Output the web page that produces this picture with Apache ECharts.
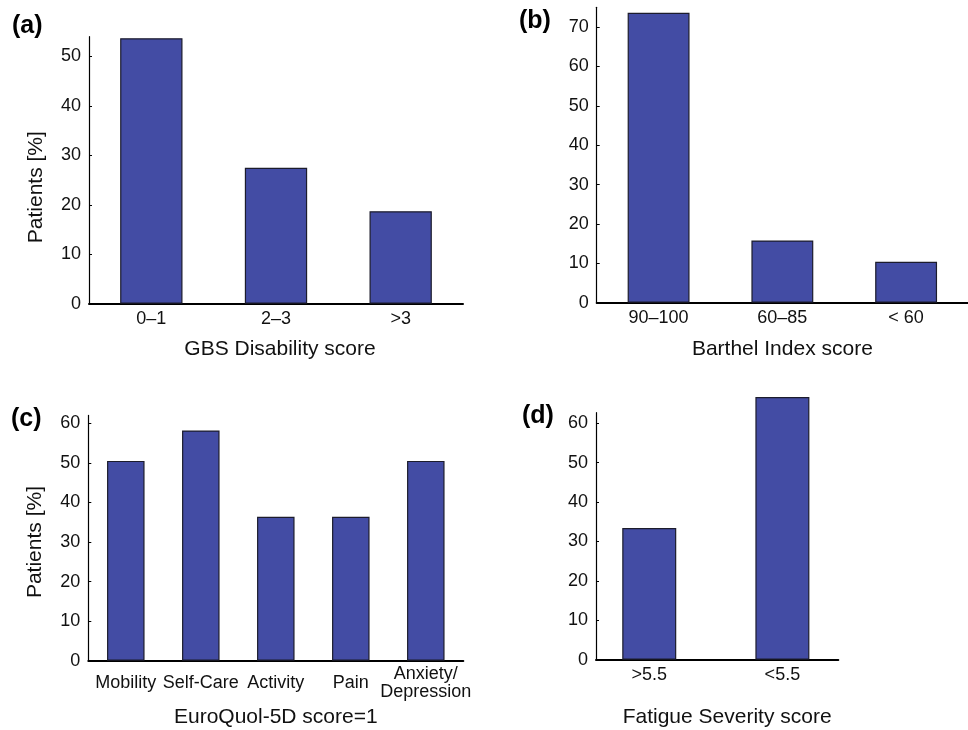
<!DOCTYPE html>
<html><head><meta charset="utf-8">
<script src="https://cdn.jsdelivr.net/npm/echarts@6/dist/echarts.min.js"></script>
<style>html,body{margin:0;padding:0;background:#fff}#c{width:968px;height:730px}</style>
</head><body><div id="c"></div>
<script>
const gbsCategories = ['0–1', '2–3', '>3'];
const gbsValues = [53.7, 27.5, 18.7];
const barthelCategories = ['90–100', '60–85', '< 60'];
const barthelValues = [73.6, 15.8, 10.4];
const euroCategories = ['Mobility', 'Self-Care', 'Activity', 'Pain', 'Anxiety/\nDepression'];
const euroValues = [50.5, 58.2, 36.4, 36.4, 50.5];
const fatigueCategories = ['>5.5', '<5.5'];
const fatigueValues = [33.4, 66.7];
const fatiguePositions = [1, 2];
const yTicksA = [0, 10, 20, 30, 40, 50];
const yTicksB = [0, 10, 20, 30, 40, 50, 60, 70];
const yTicksC = [0, 10, 20, 30, 40, 50, 60];
const yTicksD = [0, 10, 20, 30, 40, 50, 60];

const FONT = 'Liberation Sans, Arial, Helvetica, sans-serif';
const BAR_COLOR = '#434ca4';
const txt = '#111';

function yAxis(idx, max, ticks, name, namePad) {
  return {
    type: 'value', gridIndex: idx, min: 0, max: max,
    name: name || '', nameLocation: 'middle', nameGap: 53, nameRotate: 90,
    nameTextStyle: { fontFamily: FONT, fontSize: 21, color: txt, verticalAlign: 'middle', align: 'center', padding: namePad || 0 },
    axisLine: { show: true, lineStyle: { color: '#000', width: 1.2 } },
    axisTick: { show: true, inside: true, length: 3, customValues: ticks, lineStyle: { color: '#000', width: 1 } },
    axisLabel: { customValues: ticks, fontFamily: FONT, fontSize: 18, color: txt, margin: 8 },
    splitLine: { show: false }
  };
}
function xCat(idx, cats, name, gap, margin, namePad) {
  return {
    type: 'category', gridIndex: idx, data: cats,
    name: name, nameLocation: 'middle', nameGap: gap,
    nameTextStyle: { fontFamily: FONT, fontSize: 21, color: txt, verticalAlign: 'middle', padding: namePad || 0 },
    axisLine: { show: true, lineStyle: { color: '#000', width: 2 } },
    axisTick: { show: false },
    axisLabel: { fontFamily: FONT, fontSize: 18, color: txt, margin: margin, verticalAlign: 'middle', lineHeight: 18, interval: 0 },
    splitLine: { show: false }
  };
}
function barSeries(xi, data, width) {
  return {
    type: 'bar', xAxisIndex: xi, yAxisIndex: xi, data: data,
    barWidth: width, clip: false, silent: true, animation: false,
    itemStyle: { color: BAR_COLOR, borderColor: '#1c1c2c', borderWidth: 1.2 }
  };
}
function panelTitle(text, left, top) {
  return { text: text, left: left, top: top, padding: 0,
    textStyle: { fontFamily: FONT, fontSize: 25, fontWeight: 'bold', color: '#000' } };
}

const chart = echarts.init(document.getElementById('c'), null, { renderer: 'canvas' });
chart.setOption({
  backgroundColor: '#fff',
  animation: false,
  title: [
    panelTitle('(a)', 12, 14),
    panelTitle('(b)', 519, 9),
    panelTitle('(c)', 11, 407),
    panelTitle('(d)', 522, 404)
  ],
  grid: [
    { left: 89, top: 36.7, width: 374, height: 267 },
    { left: 596.7, top: 7.3, width: 375, height: 295.4 },
    { left: 88.3, top: 415.4, width: 375, height: 245.3 },
    { left: 596, top: 412.7, width: 242.3, height: 247 }
  ],
  xAxis: [
    xCat(0, gbsCategories, 'GBS Disability score', 46, 15, [0, 0, 0, 8]),
    xCat(1, barthelCategories, 'Barthel Index score', 47, 15),
    xCat(2, euroCategories, 'EuroQuol-5D score=1', 57, 22),
    {
      type: 'value', gridIndex: 3, min: 0.6, max: 2.42,
      name: 'Fatigue Severity score', nameLocation: 'middle', nameGap: 58,
      nameTextStyle: { fontFamily: FONT, fontSize: 21, color: txt, verticalAlign: 'middle', padding: [0, 0, 0, 20] },
      axisLine: { show: true, lineStyle: { color: '#000', width: 2 } },
      axisTick: { show: false },
      axisLabel: {
        customValues: fatiguePositions, fontFamily: FONT, fontSize: 18, color: txt, margin: 15, verticalAlign: 'middle',
        formatter: function (v) { const i = fatiguePositions.indexOf(Math.round(v)); return i >= 0 ? fatigueCategories[i] : ''; }
      },
      splitLine: { show: false }
    }
  ],
  yAxis: [
    yAxis(0, 54, yTicksA, 'Patients [%]', [0, 34, 0, 0]),
    yAxis(1, 75, yTicksB, ''),
    yAxis(2, 62, yTicksC, 'Patients [%]', [0, 8, 0, 0]),
    yAxis(3, 62.7, yTicksD, '')
  ],
  series: [
    barSeries(0, gbsValues, '50%'),
    barSeries(1, barthelValues, '50%'),
    barSeries(2, euroValues, '50%'),
    barSeries(3, fatigueValues.map((v, i) => [fatiguePositions[i], v]), 54)
  ]
});
</script></body></html>
